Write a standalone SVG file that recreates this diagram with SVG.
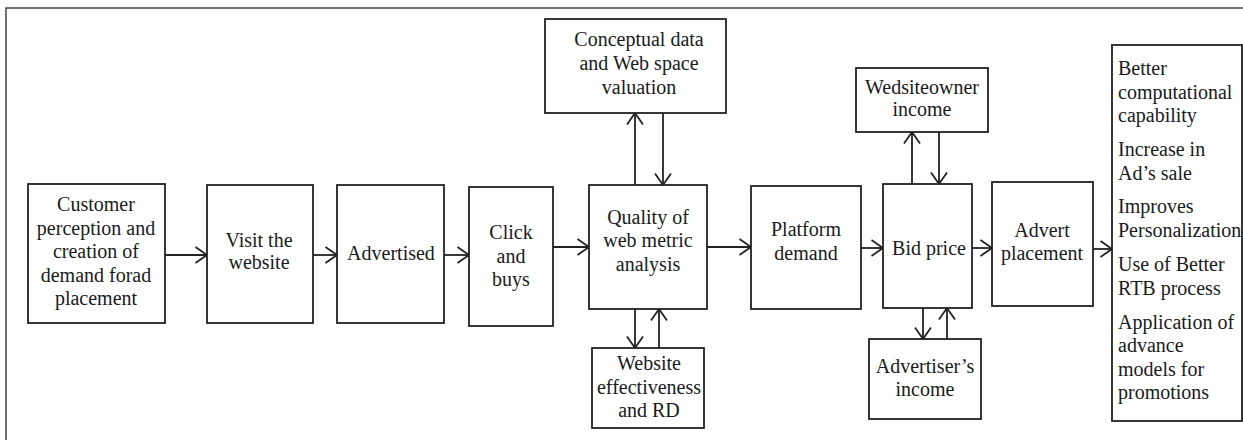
<svg xmlns="http://www.w3.org/2000/svg" width="1243" height="440" viewBox="0 0 1243 440">
<style>
.frame{fill:none;stroke:#444;stroke-width:1.5}
.box{fill:#fff;stroke:#222;stroke-width:1.8}
text{font-family:'Liberation Serif','DejaVu Serif',serif;font-size:20px;fill:#1a1a1a}
.t{text-anchor:middle}
.tl{text-anchor:start}
.c{fill:none;stroke:#222;stroke-width:1.8;marker-end:url(#ah)}
</style>
<defs>
<marker id="ah" markerUnits="userSpaceOnUse" markerWidth="16" markerHeight="20" viewBox="0 0 16 20" refX="13" refY="10" orient="auto">
<path d="M1.5,2 L13,10 L1.5,18" fill="none" stroke="#222" stroke-width="1.8"/>
</marker>
</defs>
<rect x="0" y="0" width="1243" height="440" fill="#fff"/>
<rect class="frame" x="6" y="8" width="1245" height="445"/>
<g id="connectors">
<line class="c" x1="165" y1="255" x2="207" y2="255"/>
<line class="c" x1="313" y1="255" x2="337" y2="255"/>
<line class="c" x1="444" y1="255" x2="469" y2="255"/>
<line class="c" x1="553" y1="247" x2="589" y2="247"/>
<line class="c" x1="635" y1="185" x2="635" y2="113"/>
<line class="c" x1="663" y1="113" x2="663" y2="185"/>
<line class="c" x1="635" y1="309" x2="635" y2="348"/>
<line class="c" x1="659" y1="348" x2="659" y2="309"/>
<line class="c" x1="707" y1="247" x2="751" y2="247"/>
<line class="c" x1="861" y1="248" x2="883" y2="248"/>
<line class="c" x1="912" y1="184" x2="912" y2="132"/>
<line class="c" x1="939" y1="132" x2="939" y2="184"/>
<line class="c" x1="923" y1="308" x2="923" y2="339"/>
<line class="c" x1="947" y1="339" x2="947" y2="308"/>
<line class="c" x1="972" y1="248" x2="992" y2="248"/>
<line class="c" x1="1093" y1="249" x2="1112" y2="249"/>
</g>
<g id="customer">
<rect class="box" x="28" y="184" width="137" height="139"/>
<text class="t" x="96" y="211">Customer</text>
<text class="t" x="96" y="234.5">perception and</text>
<text class="t" x="96" y="258">creation of</text>
<text class="t" x="96" y="281.5">demand forad</text>
<text class="t" x="96" y="305">placement</text>
</g>
<g id="visit">
<rect class="box" x="207" y="185" width="106" height="138"/>
<text class="t" x="259" y="246.5">Visit the</text>
<text class="t" x="259" y="269">website</text>
</g>
<g id="advertised">
<rect class="box" x="337" y="185" width="107" height="138"/>
<text class="t" x="391" y="260">Advertised</text>
</g>
<g id="click">
<rect class="box" x="469" y="187" width="84" height="139"/>
<text class="t" x="511" y="239">Click</text>
<text class="t" x="511" y="262.5">and</text>
<text class="t" x="511" y="286">buys</text>
</g>
<g id="quality">
<rect class="box" x="589" y="185" width="118" height="124"/>
<text class="t" x="648" y="223.5">Quality of</text>
<text class="t" x="648" y="247">web metric</text>
<text class="t" x="648" y="270.5">analysis</text>
</g>
<g id="conceptual">
<rect class="box" x="545" y="19" width="181" height="94"/>
<text class="t" x="639" y="46">Conceptual data</text>
<text class="t" x="639" y="70">and Web space</text>
<text class="t" x="639" y="94">valuation</text>
</g>
<g id="website-effectiveness">
<rect class="box" x="592" y="348" width="112" height="80"/>
<text class="t" x="649" y="370">Website</text>
<text class="t" x="649" y="393.5">effectiveness</text>
<text class="t" x="649" y="417">and RD</text>
</g>
<g id="platform">
<rect class="box" x="751" y="186" width="110" height="123"/>
<text class="t" x="806" y="236">Platform</text>
<text class="t" x="806" y="259.5">demand</text>
</g>
<g id="bid">
<rect class="box" x="883" y="184" width="89" height="124"/>
<text class="t" x="929" y="255">Bid price</text>
</g>
<g id="wedsiteowner">
<rect class="box" x="856" y="68" width="132" height="64"/>
<text class="t" x="922" y="93.5">Wedsiteowner</text>
<text class="t" x="922" y="116">income</text>
</g>
<g id="advertiser">
<rect class="box" x="869" y="339" width="112" height="80"/>
<text class="t" x="925" y="372.5">Advertiser’s</text>
<text class="t" x="925" y="396">income</text>
</g>
<g id="advert">
<rect class="box" x="992" y="182" width="101" height="124"/>
<text class="t" x="1042" y="236.5">Advert</text>
<text class="t" x="1042" y="260">placement</text>
</g>
<g id="outcomes">
<rect class="box" x="1112" y="45" width="130" height="376"/>
<text class="tl" x="1118" y="75">Better</text>
<text class="tl" x="1118" y="98.5">computational</text>
<text class="tl" x="1118" y="122">capability</text>
<text class="tl" x="1118" y="156">Increase in</text>
<text class="tl" x="1118" y="179.5">Ad’s sale</text>
<text class="tl" x="1118" y="213">Improves</text>
<text class="tl" x="1118" y="236.5">Personalization</text>
<text class="tl" x="1118" y="271">Use of Better</text>
<text class="tl" x="1118" y="294.5">RTB process</text>
<text class="tl" x="1118" y="328.5">Application of</text>
<text class="tl" x="1118" y="352">advance</text>
<text class="tl" x="1118" y="375.5">models for</text>
<text class="tl" x="1118" y="399">promotions</text>
</g>
</svg>
